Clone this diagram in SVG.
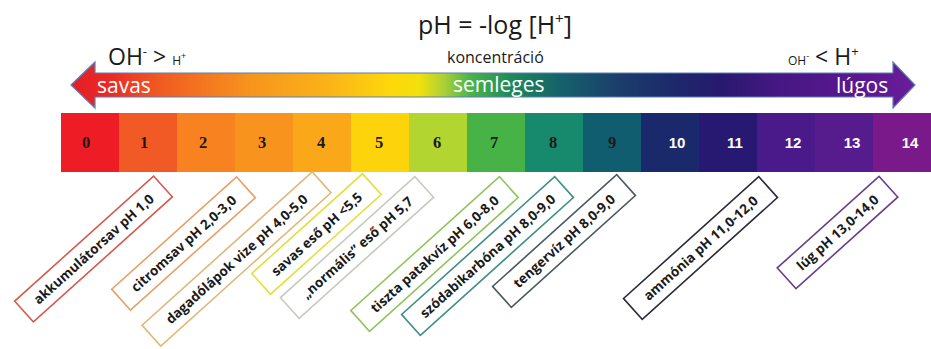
<svg xmlns="http://www.w3.org/2000/svg" width="931" height="349" viewBox="0 0 931 349">
<defs>
<linearGradient id="arrowGrad" gradientUnits="userSpaceOnUse" x1="71" y1="0" x2="915" y2="0">
<stop offset="0" stop-color="#e31e26"/>
<stop offset="0.046" stop-color="#ea2a26"/>
<stop offset="0.105" stop-color="#f05a22"/>
<stop offset="0.212" stop-color="#f7941d"/>
<stop offset="0.307" stop-color="#fbb417"/>
<stop offset="0.378" stop-color="#fdd80a"/>
<stop offset="0.413" stop-color="#f2e00c"/>
<stop offset="0.443" stop-color="#a8cf38"/>
<stop offset="0.473" stop-color="#4cb448"/>
<stop offset="0.52" stop-color="#1f8a5c"/>
<stop offset="0.579" stop-color="#15626a"/>
<stop offset="0.65" stop-color="#1b3d6c"/>
<stop offset="0.71" stop-color="#1c2a6a"/>
<stop offset="0.769" stop-color="#27196e"/>
<stop offset="0.84" stop-color="#471783"/>
<stop offset="0.935" stop-color="#5a1890"/>
<stop offset="1" stop-color="#6a1d98"/>
</linearGradient>
</defs>
<style>
.t{font-family:"Open Sans","Liberation Sans",sans-serif;fill:#1a1a1a}
.w{font-family:"Open Sans","Liberation Sans",sans-serif;fill:#ffffff;font-size:21px}
.n{font-family:"Liberation Serif",serif;font-weight:bold;font-size:16.5px;text-anchor:middle;fill:#1a1a1a}
.nw{font-family:"Liberation Sans",sans-serif;font-weight:bold;font-size:15px;text-anchor:middle;fill:#ffffff}
.box{fill:#ffffff;stroke-width:1.6}
.lbl{font-family:"Open Sans","Liberation Sans",sans-serif;font-weight:bold;font-size:13.5px;fill:#1a1a1a;text-anchor:middle;dominant-baseline:central}
</style>
<rect width="931" height="349" fill="#ffffff"/>

<g id="title">
<text class="t" x="418" y="34" font-size="25">pH = -log [H<tspan font-size="15" dy="-10">+</tspan><tspan dy="10">]</tspan></text>
</g>
<g id="concentration">
<text class="t" x="447" y="63" font-size="16">koncentráció</text>
</g>
<g id="left-relation">
<text class="t" x="108" y="65" font-size="23">OH<tspan font-size="13" dy="-9">-</tspan><tspan dy="9"> &gt; </tspan><tspan font-size="12">H</tspan><tspan font-size="9" dy="-6">+</tspan></text>
</g>
<g id="right-relation">
<text class="t" x="788" y="65" font-size="12">OH<tspan font-size="9" dy="-6">-</tspan><tspan dy="6" font-size="23"> &lt; H</tspan><tspan font-size="13" dy="-9">+</tspan></text>
</g>

<g id="arrow">
<path d="M71,85 L95,62 L95,73 L893,73 L893,62 L915,85 L893,108 L893,97 L95,97 L95,108 Z" fill="url(#arrowGrad)" stroke="#5b7fb5" stroke-width="1.2" stroke-linejoin="miter"/>
<text class="w" x="97" y="93">savas</text>
<text class="w" x="453" y="92" fill="#f2f5e6">semleges</text>
<text class="w" x="836" y="93">lúgos</text>
</g>

<g id="scale">
<rect x="61" y="113" width="58" height="59" fill="#ee1d25"/>
<rect x="119" y="113" width="58" height="59" fill="#f15a24"/>
<rect x="177" y="113" width="58" height="59" fill="#f7821f"/>
<rect x="235" y="113" width="58" height="59" fill="#f8931d"/>
<rect x="293" y="113" width="58" height="59" fill="#faa71a"/>
<rect x="351" y="113" width="58" height="59" fill="#fdd40b"/>
<rect x="409" y="113" width="58" height="59" fill="#b2d62f"/>
<rect x="467" y="113" width="58" height="59" fill="#47b347"/>
<rect x="525" y="113" width="58" height="59" fill="#17896c"/>
<rect x="583" y="113" width="58" height="59" fill="#115d70"/>
<rect x="641" y="113" width="58" height="59" fill="#19296c"/>
<rect x="699" y="113" width="58" height="59" fill="#271872"/>
<rect x="757" y="113" width="58" height="59" fill="#4a1a8a"/>
<rect x="815" y="113" width="58" height="59" fill="#561c8e"/>
<rect x="873" y="113" width="58" height="59" fill="#7a1a8a"/>
<text class="n" x="86" y="147.5">0</text>
<text class="n" x="144" y="147.5">1</text>
<text class="n" x="203" y="147.5">2</text>
<text class="n" x="262" y="147.5">3</text>
<text class="n" x="321" y="147.5">4</text>
<text class="n" x="379" y="147.5">5</text>
<text class="n" x="437" y="147.5">6</text>
<text class="n" x="494" y="147.5">7</text>
<text class="n" x="553" y="147.5">8</text>
<text class="n" x="612" y="147.5">9</text>
<text class="nw" x="677" y="147.5">10</text>
<text class="nw" x="735" y="147.5">11</text>
<text class="nw" x="793" y="147.5">12</text>
<text class="nw" x="852" y="147.5">13</text>
<text class="nw" x="910" y="147.5">14</text>
</g>

<g id="label-akkumulatorsav" transform="translate(93.5,249) rotate(-42)">
<rect class="box" x="-93.5" y="-14" width="187" height="28" stroke="#d65a4e"/>
<text class="lbl" x="0" y="0">akkumulátorsav pH 1,0</text>
</g>
<g id="label-citromsav" transform="translate(183.5,243.5) rotate(-42)">
<rect class="box" x="-84" y="-14" width="168" height="28" stroke="#e6a067"/>
<text class="lbl" x="0" y="0">citromsav pH 2,0-3,0</text>
</g>
<g id="label-dagadolapok" transform="translate(236.5,259) rotate(-42)">
<rect class="box" x="-114.5" y="-14" width="229" height="28" stroke="#dfb77a"/>
<text class="lbl" x="0" y="0">dagadólápok vize pH 4,0-5,0</text>
</g>
<g id="label-savas-eso" transform="translate(316.5,234) rotate(-42)">
<rect class="box" x="-74.5" y="-14" width="149" height="28" stroke="#e3df3c"/>
<text class="lbl" x="0" y="0">savas eső pH &lt;5,5</text>
</g>
<g id="label-normalis-eso" transform="translate(357,247.5) rotate(-42)">
<rect class="box" x="-90.5" y="-14" width="181" height="28" stroke="#c9c9c0"/>
<text class="lbl" x="0" y="0">„normális”  eső pH 5,7</text>
</g>
<g id="label-patakviz" transform="translate(434.5,254) rotate(-42)">
<rect class="box" x="-100" y="-14" width="200" height="28" stroke="#90c45a"/>
<text class="lbl" x="0" y="0">tiszta patakvíz pH 6,0-8,0</text>
</g>
<g id="label-szodabikarbona" transform="translate(487.5,256) rotate(-42)">
<rect class="box" x="-103" y="-14" width="206" height="28" stroke="#3f8f85"/>
<text class="lbl" x="0" y="0">szódabikarbóna pH 8,0-9,0</text>
</g>
<g id="label-tengerviz" transform="translate(564,241) rotate(-42)">
<rect class="box" x="-83.5" y="-14" width="167" height="28" stroke="#4a5a60"/>
<text class="lbl" x="0" y="0">tengervíz pH 8,0-9,0</text>
</g>
<g id="label-ammonia" transform="translate(700.5,248) rotate(-42)">
<rect class="box" x="-91" y="-14" width="182" height="28" stroke="#2a2a3a"/>
<text class="lbl" x="0" y="0">ammónia pH 11,0-12,0</text>
</g>
<g id="label-lug" transform="translate(837.5,232.5) rotate(-42)">
<rect class="box" x="-68.5" y="-14" width="137" height="28" stroke="#6a3d8a"/>
<text class="lbl" x="0" y="0">lúg pH 13,0-14,0</text>
</g>

<g id="connectors"></g>
</svg>
